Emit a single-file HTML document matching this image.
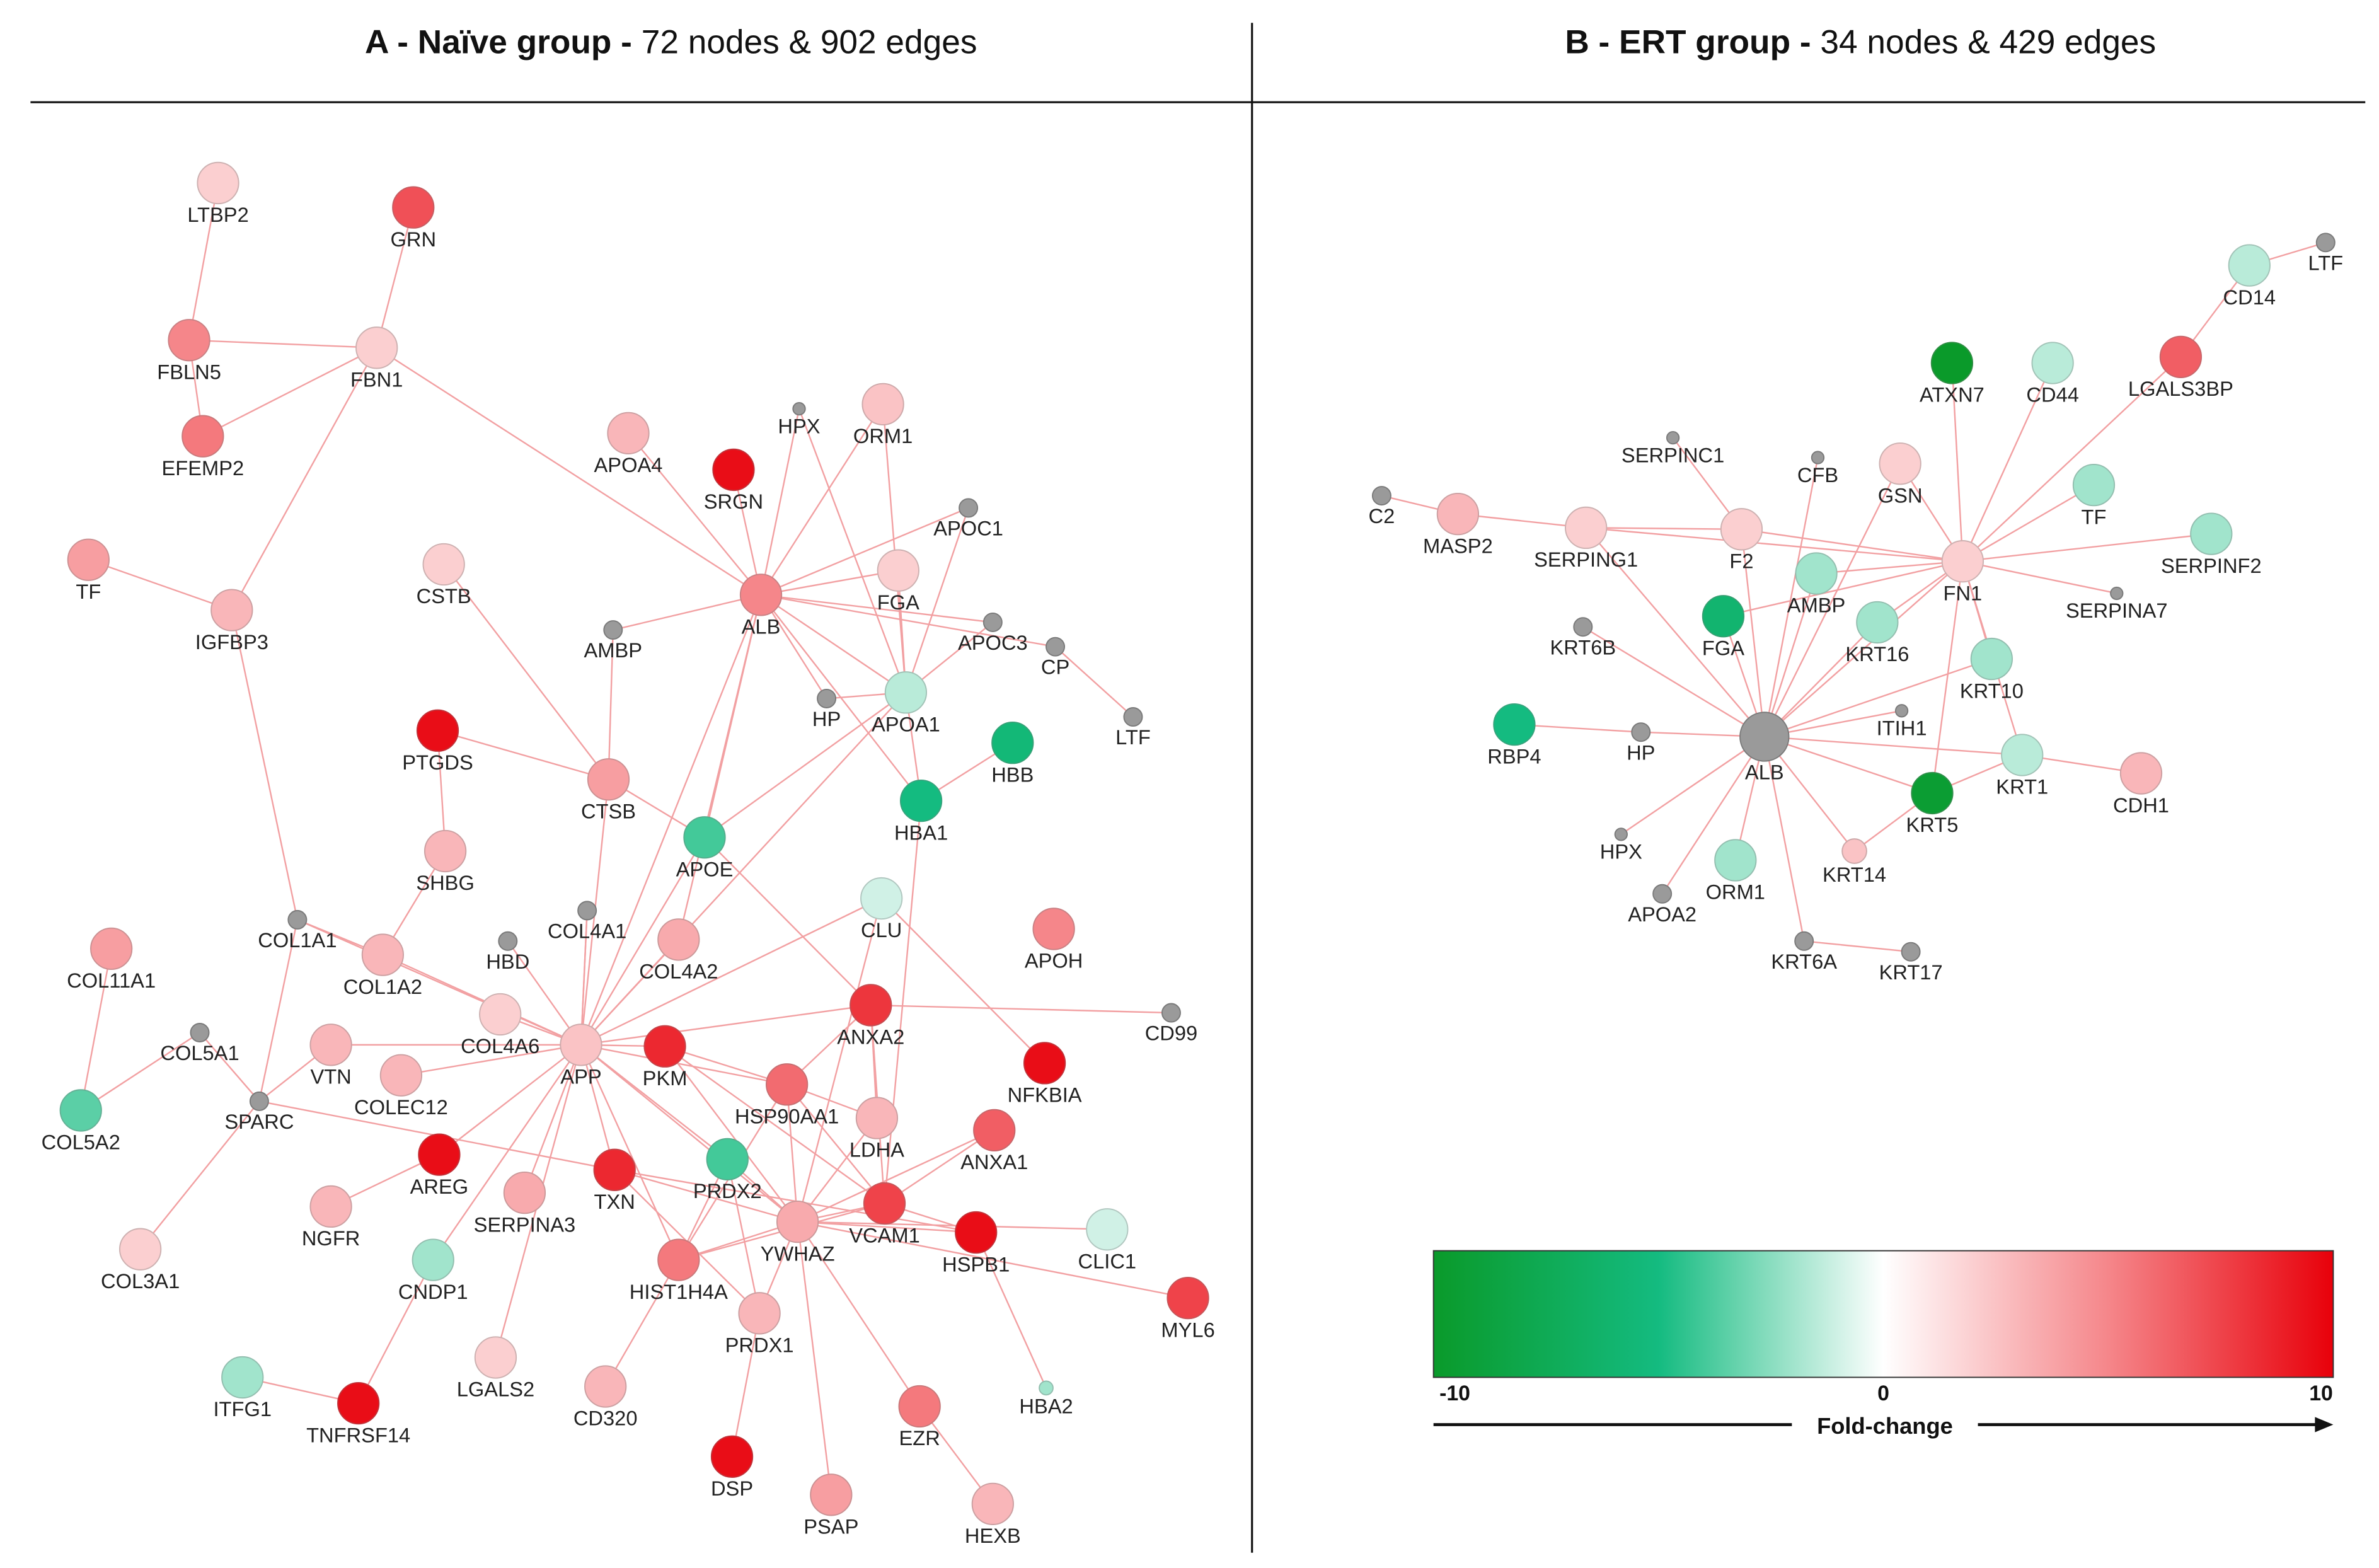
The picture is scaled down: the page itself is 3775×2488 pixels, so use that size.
<!DOCTYPE html>
<html><head><meta charset="utf-8">
<style>
html,body{margin:0;padding:0;background:#fff;}
svg{display:block;}
text{font-family:"Liberation Sans",Arial,sans-serif;}
</style></head>
<body>
<svg id="chart" width="3775" height="2488" viewBox="0 0 1560 1028" preserveAspectRatio="none" xmlns="http://www.w3.org/2000/svg">
<defs>
<linearGradient id="fcgrad" x1="0" x2="1" y1="0" y2="0">
<stop offset="0" stop-color="#0a9a2a"/>
<stop offset="0.25" stop-color="#14bb80"/>
<stop offset="0.5" stop-color="#ffffff"/>
<stop offset="0.75" stop-color="#f5868a"/>
<stop offset="1" stop-color="#e8000a"/>
</linearGradient>
</defs>
<rect x="0" y="0" width="1560" height="1028" fill="#fff"/>
<text x="440" y="35" text-anchor="middle" font-size="22" fill="#111"><tspan font-weight="bold">A - Naïve group -</tspan> 72 nodes &amp; 902 edges</text>
<text x="1220" y="35" text-anchor="middle" font-size="22" fill="#111"><tspan font-weight="bold">B - ERT group -</tspan> 34 nodes &amp; 429 edges</text>
<line x1="20" y1="67" x2="1551" y2="67" stroke="#111" stroke-width="1.3"/>
<line x1="821" y1="15" x2="821" y2="1018" stroke="#111" stroke-width="1.3"/>
<g id="edgesA"></g>
<g id="edgesB"></g>
<g id="nodesA"></g>
<g id="nodesB"></g>
<g>
<rect x="940" y="820" width="590" height="83" fill="url(#fcgrad)" stroke="#333" stroke-width="0.8"/>
<g id="legendTicks"></g>
<line x1="940" y1="934" x2="1175" y2="934" stroke="#111" stroke-width="2"/>
<line x1="1297" y1="934" x2="1522" y2="934" stroke="#111" stroke-width="2"/>
<polygon points="1530,934 1518,929 1518,939" fill="#111"/>
<text x="1236" y="940" text-anchor="middle" font-size="15" font-weight="bold" fill="#111">Fold-change</text>
</g>
</svg>
<script>
// Panel A nodes: [name, x, y, foldChange] (null = not quantified, grey)
const nodesA = [
["LTBP2",143,120,2],["GRN",271,136,7],["FBLN5",124,223,5],["FBN1",247,228,2],["EFEMP2",133,286,5.5],
["TF",58,367,4],["IGFBP3",152,400,3],["APOA4",412,284,3],["SRGN",481,308,9.5],["HPX",524,268,null],
["ORM1",579,265,2.5],["APOC1",635,333,null],["CSTB",291,370,2],["FGA",589,374,2],["ALB",499,390,5],
["AMBP",402,413,null],["APOC3",651,408,null],["CP",692,424,null],["HP",542,458,null],["APOA1",594,454,-1.5],
["LTF",743,470,null],["PTGDS",287,479,9.5],["HBB",664,487,-5.5],["CTSB",399,511,4],["HBA1",604,525,-5],
["APOE",462,549,-4],["SHBG",292,558,3],["CLU",578,589,-1],["COL1A1",195,603,null],["COL4A1",385,597,null],
["HBD",333,617,null],["COL4A2",445,616,3.5],["APOH",691,609,5],["COL11A1",73,622,4],["COL1A2",251,626,3],
["COL4A6",328,665,2],["ANXA2",571,659,8],["CD99",768,664,null],["COL5A1",131,677,null],["VTN",217,685,3],
["APP",381,685,2.5],["PKM",436,686,8.5],["NFKBIA",685,697,9.5],["COLEC12",263,705,3],["SPARC",170,722,null],
["HSP90AA1",516,711,6],["COL5A2",53,728,-3.5],["LDHA",575,733,3],["ANXA1",652,741,6.5],["AREG",288,757,9.5],
["PRDX2",477,760,-4],["TXN",403,767,8.5],["SERPINA3",344,782,3.5],["NGFR",217,791,3],["YWHAZ",523,801,3.5],
["VCAM1",580,789,7.5],["HSPB1",640,808,9.5],["CLIC1",726,806,-1],["HIST1H4A",445,826,5.5],["CNDP1",284,826,-2],
["COL3A1",92,819,2],["MYL6",779,851,7.5],["PRDX1",498,861,3],["LGALS2",325,890,2],["CD320",397,909,3],
["ITFG1",159,903,-2],["TNFRSF14",235,920,9.5],["HBA2",686,910,-2],["EZR",603,922,5.5],["DSP",480,955,9.5],
["PSAP",545,980,4],["HEXB",651,986,3]
];
const edgesA = [
["LTBP2","FBLN5"],["GRN","FBN1"],["FBLN5","FBN1"],["FBLN5","EFEMP2"],["EFEMP2","FBN1"],["FBN1","IGFBP3"],
["FBN1","ALB"],["TF","IGFBP3"],["IGFBP3","COL1A1"],["ALB","APOA4"],["ALB","SRGN"],["ALB","HPX"],["ALB","ORM1"],
["ALB","APOC1"],["ALB","FGA"],["ALB","AMBP"],["ALB","APOC3"],["ALB","HP"],["ALB","APOA1"],["ALB","APP"],
["ALB","APOE"],["ALB","HBA1"],["ALB","CP"],["ALB","COL4A2"],["APOA1","APOC1"],["APOA1","APOC3"],["APOA1","FGA"],
["APOA1","ORM1"],["APOA1","HPX"],["APOA1","APOE"],["APOA1","APP"],["APOA1","HP"],["APOA1","HBA1"],["CP","LTF"],
["CSTB","CTSB"],["AMBP","CTSB"],["PTGDS","CTSB"],["CTSB","APP"],["CTSB","APOE"],["PTGDS","SHBG"],["SHBG","COL1A2"],
["APOE","APP"],["APOE","ANXA2"],["CLU","APP"],["CLU","YWHAZ"],["CLU","NFKBIA"],["COL1A1","COL1A2"],["COL1A1","SPARC"],
["COL1A1","APP"],["COL4A1","APP"],["HBD","APP"],["COL4A2","APP"],["COL4A6","APP"],["COL1A2","APP"],["COL11A1","COL5A2"],
["COL5A1","COL5A2"],["COL5A1","SPARC"],["SPARC","COL3A1"],["SPARC","VTN"],["SPARC","TXN"],["VTN","APP"],["COLEC12","APP"],
["PKM","APP"],["ANXA2","APP"],["ANXA2","CD99"],["ANXA2","VCAM1"],["ANXA2","HSP90AA1"],["HBA1","VCAM1"],["HBB","HBA1"],
["APP","HSP90AA1"],["APP","YWHAZ"],["APP","PRDX2"],["APP","TXN"],["APP","SERPINA3"],["APP","AREG"],["AREG","NGFR"],
["APP","HIST1H4A"],["APP","LGALS2"],["APP","CNDP1"],["CD320","HIST1H4A"],["PKM","YWHAZ"],["PKM","HSP90AA1"],
["HSP90AA1","YWHAZ"],["HSP90AA1","VCAM1"],["LDHA","YWHAZ"],["LDHA","ANXA2"],["ANXA1","VCAM1"],["ANXA1","YWHAZ"],
["PRDX2","YWHAZ"],["PRDX2","PRDX1"],["TXN","YWHAZ"],["TXN","PRDX1"],["YWHAZ","VCAM1"],["YWHAZ","HSPB1"],["YWHAZ","CLIC1"],
["YWHAZ","HIST1H4A"],["YWHAZ","EZR"],["YWHAZ","PSAP"],["YWHAZ","PRDX1"],["YWHAZ","MYL6"],["VCAM1","HSPB1"],
["VCAM1","HIST1H4A"],["HSPB1","HBA2"],["EZR","HEXB"],["DSP","PRDX1"],["HIST1H4A","PRDX2"],["CNDP1","TNFRSF14"],
["ITFG1","TNFRSF14"],["HSP90AA1","HIST1H4A"],["APP","COL4A1"],["TXN","HSPB1"],["PKM","VCAM1"],["HSP90AA1","LDHA"]
];
// Panel B nodes
const nodesB = [
["LTF",1525,159,null],["CD14",1475,174,-1.5],["ATXN7",1280,238,-10],["CD44",1346,238,-1.5],["LGALS3BP",1430,234,6.5],
["SERPINC1",1097,287,null],["CFB",1192,300,null],["GSN",1246,304,2],["C2",906,325,null],["MASP2",956,337,3],
["SERPING1",1040,346,2],["F2",1142,347,2],["TF",1373,318,-2],["SERPINF2",1450,350,-2],["AMBP",1191,376,-2],
["FN1",1287,368,2],["SERPINA7",1388,389,null],["FGA",1130,404,-6],["KRT16",1231,408,-2],["KRT6B",1038,411,null],
["KRT10",1306,432,-2],["ITIH1",1247,466,null],["RBP4",993,475,-5],["HP",1076,480,null],["ALB",1157,483,null],
["KRT1",1326,495,-1.5],["CDH1",1404,507,3],["KRT5",1267,520,-9.5],["HPX",1063,547,null],["ORM1",1138,564,-2],
["KRT14",1216,558,2.5],["APOA2",1090,586,null],["KRT6A",1183,617,null],["KRT17",1253,624,null]
];
const edgesB = [
["ALB","FN1"],["ALB","F2"],["ALB","SERPING1"],["ALB","FGA"],["ALB","AMBP"],["ALB","KRT16"],["ALB","KRT10"],
["ALB","KRT1"],["ALB","KRT5"],["ALB","KRT14"],["ALB","ORM1"],["ALB","APOA2"],["ALB","HPX"],["ALB","HP"],
["ALB","KRT6B"],["ALB","KRT6A"],["ALB","ITIH1"],["ALB","CFB"],["ALB","GSN"],["FN1","LGALS3BP"],["FN1","CD44"],
["FN1","ATXN7"],["FN1","TF"],["FN1","SERPINF2"],["FN1","SERPINA7"],["FN1","KRT10"],["FN1","KRT1"],["FN1","GSN"],
["FN1","F2"],["FN1","SERPING1"],["FN1","AMBP"],["FN1","FGA"],["FN1","KRT16"],["FN1","KRT5"],["KRT1","CDH1"],
["KRT5","KRT1"],["C2","MASP2"],["MASP2","SERPING1"],["SERPING1","F2"],["SERPINC1","F2"],["CD14","LTF"],
["CD14","LGALS3BP"],["HP","RBP4"],["KRT6A","KRT17"],["KRT5","KRT14"]
];
const tickVals = [-10,0,10];

const NS="http://www.w3.org/2000/svg";
function lerp(a,b,t){return a.map((v,i)=>Math.round(v+(b[i]-v)*t));}
function colorFor(fc){
  if(fc===null) return [154,154,154];
  const stops=[[-10,[10,154,42]],[-5,[20,187,128]],[0,[255,255,255]],[5,[245,134,138]],[10,[232,0,10]]];
  for(let i=0;i<stops.length-1;i++){
    if(fc<=stops[i+1][0]) return lerp(stops[i][1],stops[i+1][1],(fc-stops[i][0])/(stops[i+1][0]-stops[i][0]));
  }
  return stops[4][1];
}
function rgb(c){return "rgb("+c.join(",")+")";}
function radius(name,fc,panel){
  if(fc!==null) return (name==="HBA2")?4.5:(name==="KRT14"?8:13.5);
  if(panel==="B"&&name==="ALB") return 16;
  if(["ITIH1","HPX","SERPINA7","CFB","SERPINC1"].includes(name)) return 4;
  return 6;
}
function draw(nodes,edges,panel){
  const idx={};nodes.forEach(n=>idx[n[0]]=n);
  const eg=document.getElementById("edges"+panel);
  edges.forEach(e=>{
    const a=idx[e[0]],b=idx[e[1]];if(!a||!b)return;
    const l=document.createElementNS(NS,"line");
    l.setAttribute("x1",a[1]);l.setAttribute("y1",a[2]);l.setAttribute("x2",b[1]);l.setAttribute("y2",b[2]);
    l.setAttribute("stroke","#f2a0a2");l.setAttribute("stroke-width","1");
    
    
    eg.appendChild(l);
  });
  const ng=document.getElementById("nodes"+panel);
  nodes.forEach(n=>{
    const [name,x,y,fc]=n;const r=radius(name,fc,panel);const c=colorFor(fc);
    const g=document.createElementNS(NS,"g");
    
    
    const ci=document.createElementNS(NS,"circle");
    ci.setAttribute("cx",x);ci.setAttribute("cy",y);ci.setAttribute("r",r);
    ci.setAttribute("fill",rgb(c));
    ci.setAttribute("stroke",fc===null?"#7a7a7a":rgb(lerp(c,[120,120,120],0.35)));
    ci.setAttribute("stroke-width","0.8");
    g.appendChild(ci);
    const t=document.createElementNS(NS,"text");
    t.setAttribute("x",x);t.setAttribute("y",y+r+12);
    t.setAttribute("text-anchor","middle");t.setAttribute("font-size","13.5");t.setAttribute("fill","#222");
    t.textContent=name;
    g.appendChild(t);
    ng.appendChild(g);
  });
}
draw(nodesA,edgesA,"A");
draw(nodesB,edgesB,"B");
const lt=document.getElementById("legendTicks");
tickVals.forEach(v=>{
  const t=document.createElementNS(NS,"text");
  const x=940+(v+10)/20*590;
  t.setAttribute("x",v===-10?x+14:(v===10?x-8:x));t.setAttribute("y",918);
  t.setAttribute("text-anchor","middle");t.setAttribute("font-size","14");t.setAttribute("font-weight","bold");t.setAttribute("fill","#111");
  t.textContent=String(v);
  
  
  lt.appendChild(t);
});
</script>
</body></html>
